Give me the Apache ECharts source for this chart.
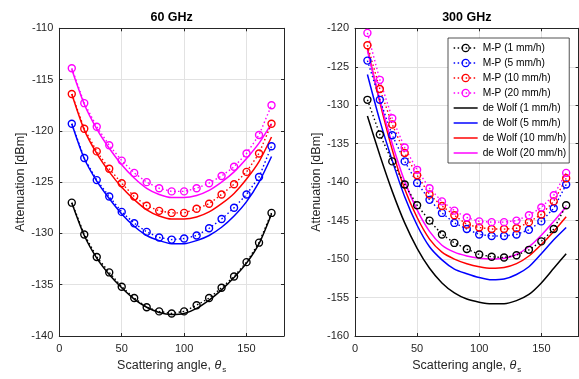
<!DOCTYPE html>
<html><head><meta charset="utf-8">
<script src="https://cdn.jsdelivr.net/npm/echarts@6/dist/echarts.min.js"></script>
<style>html,body{margin:0;padding:0;background:#fff}#c{width:579px;height:379px}</style>
</head><body><div id="c"></div>
<script>
// ---- data ----
const angles = [10,20,30,40,50,60,70,80,90,100,110,120,130,140,150,160,170];
const xTicks = [0,50,100,150];
const panelTitles = ['60 GHz','300 GHz'];
const seriesNames = ['M-P (1 mm/h)','M-P (5 mm/h)','M-P (10 mm/h)','M-P (20 mm/h)',
                     'de Wolf (1 mm/h)','de Wolf (5 mm/h)','de Wolf (10 mm/h)','de Wolf (20 mm/h)'];
// 60 GHz
const mp60_1  = [-127.0,-130.1,-132.3,-133.8,-135.2,-136.3,-137.2,-137.6,-137.8,-137.6,-137.0,-136.3,-135.3,-134.2,-132.8,-130.9,-128.0];
const mp60_5  = [-119.3,-122.65,-124.8,-126.4,-127.9,-129.0,-129.85,-130.4,-130.6,-130.5,-130.2,-129.5,-128.6,-127.5,-126.2,-124.5,-121.5];
const mp60_10 = [-116.4,-119.8,-122.0,-123.7,-125.1,-126.4,-127.3,-127.8,-128.0,-128.0,-127.6,-127.1,-126.2,-125.2,-124.0,-122.2,-119.3];
const mp60_20 = [-113.9,-117.3,-119.6,-121.4,-122.9,-124.1,-125.0,-125.6,-125.9,-125.9,-125.6,-125.1,-124.4,-123.5,-122.2,-120.4,-117.5];
const dw60_1  = [-127.0,-130.2,-132.4,-134.0,-135.3,-136.4,-137.2,-137.7,-137.9,-137.8,-137.3,-136.5,-135.5,-134.3,-132.9,-131.0,-128.1];
const dw60_5  = [-119.3,-122.7,-124.9,-126.6,-128.1,-129.3,-130.2,-130.7,-131.0,-131.0,-130.7,-130.2,-129.4,-128.3,-126.9,-125.0,-122.5];
const dw60_10 = [-116.4,-119.9,-122.2,-124.0,-125.5,-126.7,-127.7,-128.3,-128.6,-128.6,-128.4,-127.9,-127.1,-126.1,-124.7,-123.0,-120.6];
const dw60_20 = [-114.0,-117.4,-119.8,-121.7,-123.3,-124.6,-125.6,-126.2,-126.5,-126.5,-126.3,-125.8,-125.0,-124.0,-122.7,-121.2,-119.3];
// 300 GHz
const mp300_1  = [-129.3,-133.8,-137.3,-140.3,-143.0,-145.0,-146.8,-147.9,-148.7,-149.4,-149.7,-149.8,-149.5,-148.8,-147.7,-146.1,-143.0];
const mp300_5  = [-124.2,-129.3,-133.9,-137.3,-140.1,-142.3,-144.0,-145.3,-146.1,-146.8,-147.0,-147.0,-146.8,-146.2,-145.1,-143.4,-140.3];
const mp300_10 = [-122.2,-127.9,-132.5,-136.2,-139.1,-141.6,-143.1,-144.3,-145.5,-145.9,-146.1,-146.1,-146.0,-145.2,-144.2,-142.5,-139.5];
const mp300_20 = [-120.6,-126.7,-131.7,-135.5,-138.4,-140.8,-142.5,-143.7,-144.6,-145.1,-145.2,-145.2,-145.0,-144.3,-143.3,-141.7,-138.8];
const dw300_1  = [-131.4,-136.5,-141.2,-145.3,-148.6,-151.2,-153.1,-154.4,-155.2,-155.6,-155.8,-155.8,-155.4,-154.6,-153.1,-151.2,-149.3];
const dw300_5  = [-126.0,-132.0,-137.2,-141.9,-145.6,-148.4,-150.1,-151.3,-151.9,-152.4,-152.7,-152.6,-152.0,-151.0,-149.3,-147.5,-145.9];
const dw300_10 = [-122.6,-129.6,-135.8,-140.9,-144.6,-147.4,-149.1,-150.0,-150.6,-151.0,-151.2,-151.1,-150.6,-149.6,-148.1,-146.4,-144.5];
const dw300_20 = [-122.9,-129.3,-135.0,-139.9,-143.6,-146.4,-148.2,-149.1,-149.6,-149.9,-150.0,-149.9,-149.4,-148.4,-146.9,-145.1,-143.2];

// ---- styles ----
const FONT = 'Liberation Sans, Arial, Helvetica, sans-serif';
const AX = '#262626';
const colors = ['#000000','#0000ff','#ff0000','#ff00ff'];
const grids = [
  {left:59.3, top:28.3, width:224.7, height:312.4},
  {left:355,  top:28.3, width:223.6, height:312.4}
];
const yRanges = [[-140,-110],[-160,-120]];

const chart = echarts.init(document.getElementById('c'), null, {renderer:'canvas'});

const xAxes = [], yAxes = [];
grids.forEach((g, gi) => {
  xAxes.push({
    gridIndex: gi, type:'value', min:0, max:180, interval:50, position:'bottom',
    axisLine:{show:true, onZero:false, lineStyle:{color:AX, width:1}},
    axisTick:{show:true, inside:true, length:3, lineStyle:{color:AX}},
    axisLabel:{color:AX, fontSize:11, fontFamily:FONT, margin:7, showMaxLabel:false,
      formatter: v => xTicks.indexOf(v) >= 0 ? String(v) : ''},
    splitLine:{show:true, lineStyle:{color:'#e2e2e2', width:1}},
    name:'Scattering angle, {i|θ}{s|s}', nameLocation:'middle', nameGap:21,
    nameTextStyle:{color:AX, fontSize:12.5, fontFamily:FONT,
      rich:{i:{fontStyle:'italic', fontSize:12.5, color:AX, fontFamily:FONT},
            s:{fontSize:8, color:AX, fontFamily:FONT, padding:[9,0,0,1]}}}
  });
  xAxes.push({
    gridIndex: gi, type:'value', min:0, max:180, interval:50, position:'top',
    axisLine:{show:true, onZero:false, lineStyle:{color:AX, width:1}},
    axisTick:{show:true, inside:true, length:3, lineStyle:{color:AX}},
    axisLabel:{show:false}, splitLine:{show:false}
  });
  yAxes.push({
    gridIndex: gi, type:'value', min:yRanges[gi][0], max:yRanges[gi][1], interval:5, position:'left',
    axisLine:{show:true, onZero:false, lineStyle:{color:AX, width:1}},
    axisTick:{show:true, inside:true, length:3, lineStyle:{color:AX}},
    axisLabel:{color:AX, fontSize:11, fontFamily:FONT, margin:6},
    splitLine:{show:true, lineStyle:{color:'#e2e2e2', width:1}},
    name:'Attenuation [dBm]', nameLocation:'middle', nameGap:31, nameRotate:90,
    nameTextStyle:{color:AX, fontSize:12.5, fontFamily:FONT}
  });
  yAxes.push({
    gridIndex: gi, type:'value', min:yRanges[gi][0], max:yRanges[gi][1], interval:5, position:'right',
    axisLine:{show:true, onZero:false, lineStyle:{color:AX, width:1}},
    axisTick:{show:true, inside:true, length:3, lineStyle:{color:AX}},
    axisLabel:{show:false}, splitLine:{show:false}
  });
});

function mpSeries(name, vals, color, gi) {
  return {
    name, type:'line', xAxisIndex: gi*2, yAxisIndex: gi*2, color,
    data: angles.map((a,i) => [a, vals[i]]),
    symbol:'circle', symbolSize:7, showSymbol:true,
    itemStyle:{color:'rgba(255,255,255,0)', borderColor:color, borderWidth:1.4},
    lineStyle:{color, width:1.4, type:[1.5,2.5]},
    emphasis:{disabled:true}, z:3, clip:true
  };
}
function dwSeries(name, vals, color, gi) {
  return {
    name, type:'line', xAxisIndex: gi*2, yAxisIndex: gi*2, color,
    data: angles.map((a,i) => [a, vals[i]]),
    symbol:'none', showSymbol:false, smooth:0.25,
    itemStyle:{color},
    lineStyle:{color, width:1.5, type:'solid'},
    emphasis:{disabled:true}, z:2, clip:true
  };
}

const mpSets = [[mp60_1,mp60_5,mp60_10,mp60_20],[mp300_1,mp300_5,mp300_10,mp300_20]];
const dwSets = [[dw60_1,dw60_5,dw60_10,dw60_20],[dw300_1,dw300_5,dw300_10,dw300_20]];
const series = [];
[0,1].forEach(gi => {
  mpSets[gi].forEach((v,k) => series.push(mpSeries(seriesNames[k], v, colors[k], gi)));
  dwSets[gi].forEach((v,k) => series.push(dwSeries(seriesNames[4+k], v, colors[k], gi)));
});

const lineIcon = 'path://M0,0 L26,0 L26,1.6 L0,1.6 Z';
const legendData = seriesNames.map((n,k) => k < 4
  ? {name:n, itemStyle:{borderWidth:1.2}, lineStyle:{width:1.3}}
  : {name:n, icon:lineIcon});

chart.setOption({
  animation:false,
  backgroundColor:'#ffffff',
  title: grids.map((g,gi) => ({
    text: panelTitles[gi], left: g.left + g.width/2, top: 11, textAlign:'center', padding:0,
    textStyle:{fontSize:12.5, fontWeight:'bold', color:'#000', fontFamily:FONT}
  })),
  grid: grids.map(g => Object.assign({containLabel:false}, g)),
  xAxis: xAxes,
  yAxis: yAxes,
  legend: {
    left:448, top:38, orient:'vertical', padding:[5,3,5,5],
    itemWidth:24, itemHeight:9, itemGap:5,
    backgroundColor:'#fff', borderColor:AX, borderWidth:0.8, borderRadius:0,
    selectedMode:false,
    textStyle:{fontSize:10.2, color:'#000', fontFamily:FONT},
    data: legendData
  },
  series
});
</script></body></html>
